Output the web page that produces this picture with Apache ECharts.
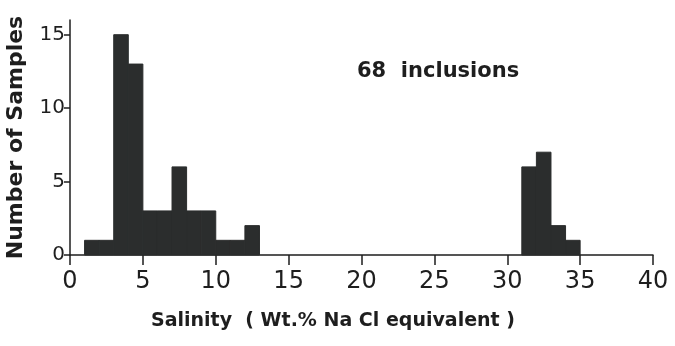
<!DOCTYPE html>
<html>
<head>
<meta charset="utf-8">
<script src="https://cdn.jsdelivr.net/npm/echarts@6/dist/echarts.min.js"></script>
<style>
html,body{margin:0;padding:0;background:#fff;}
#c{width:675px;height:346px;}
</style>
</head>
<body>
<div id="c"></div>
<script>
// Histogram bins (Wt.% NaCl equivalent), bin width 1
var binStarts = [1, 2, 3, 4, 5, 6, 7, 8, 9, 10, 11, 12, 31, 32, 33, 34];
var binEnds   = [2, 3, 4, 5, 6, 7, 8, 9, 10, 11, 12, 13, 32, 33, 34, 35];
var counts    = [1, 1, 15, 13, 3, 3, 6, 3, 3, 1, 1, 2, 6, 7, 2, 1];
var xTicks = [0, 5, 10, 15, 20, 25, 30, 35, 40];
var yTicks = [0, 5, 10, 15];
var annotation = '68  inclusions';
var xTitle = 'Salinity  ( Wt.% Na Cl equivalent )';
var yTitle = 'Number of Samples';

var data = binStarts.map(function (s, i) { return [s, binEnds[i], counts[i]]; });

var chart = echarts.init(document.getElementById('c'), null, {renderer: 'canvas'});
var ink = '#1e1e1e';
var font = 'DejaVu Sans';
var barColor = '#2b2d2d';
chart.setOption({
  animation: false,
  backgroundColor: '#ffffff',
  grid: {left: 70, right: 22, top: 20, bottom: 91, containLabel: false, outerBoundsMode: 'none'},
  xAxis: {
    type: 'value', min: 0, max: 40, interval: 5,
    axisLine: {show: true, onZero: false, lineStyle: {color: ink, width: 1.5}},
    axisTick: {show: true, inside: false, length: 10, lineStyle: {color: ink, width: 1.5}, customValues: xTicks},
    axisLabel: {color: ink, fontSize: 24, fontFamily: font, margin: 15, customValues: xTicks},
    splitLine: {show: false}
  },
  yAxis: {
    type: 'value', min: 0, max: 16, interval: 5,
    axisLine: {show: true, lineStyle: {color: ink, width: 1.5}},
    axisTick: {show: true, inside: false, length: 6, lineStyle: {color: ink, width: 1.5}, customValues: yTicks},
    axisLabel: {color: ink, fontSize: 20, fontFamily: font, margin: 5, customValues: yTicks},
    splitLine: {show: false},
    name: yTitle, nameLocation: 'middle', nameGap: 43, nameRotate: 90,
    nameTextStyle: {color: ink, fontSize: 22, fontFamily: font, fontWeight: 'bold'}
  },
  series: [{
    type: 'custom',
    data: data,
    encode: {x: [0, 1], y: 2},
    renderItem: function (params, api) {
      var p0 = api.coord([api.value(0), api.value(2)]);
      var p1 = api.coord([api.value(1), 0]);
      return {
        type: 'rect',
        shape: {x: p0[0], y: p0[1], width: p1[0] - p0[0], height: p1[1] - p0[1]},
        style: {fill: barColor, stroke: barColor, lineWidth: 1}
      };
    }
  }],
  graphic: [{
    type: 'text', x: 357, y: 72,
    style: {text: annotation, fill: ink, font: 'bold 21px "DejaVu Sans"', textVerticalAlign: 'middle'}
  }, {
    type: 'text', x: 333, y: 321,
    style: {text: xTitle, fill: ink, font: 'bold 19px "DejaVu Sans"', textAlign: 'center', textVerticalAlign: 'middle'}
  }]
});
</script>
</body>
</html>
